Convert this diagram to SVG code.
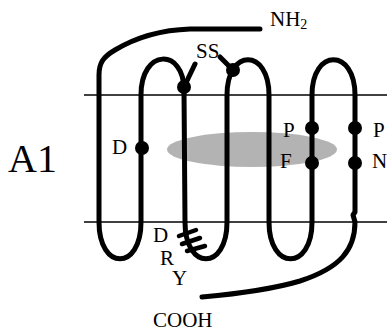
<svg xmlns="http://www.w3.org/2000/svg" width="387" height="333" viewBox="0 0 387 333">
<style>
text{font-family:'Liberation Serif','Times New Roman',Times,serif;font-size:21px;fill:#000}
.s{fill:none;stroke:#000;stroke-width:5;stroke-linecap:round;stroke-linejoin:round}
.m{stroke:#000;stroke-width:1.5}
.d{fill:#000}
</style>
<rect width="387" height="333" fill="#fff"/>
<g id="membrane">
<line class="m" x1="84" y1="95" x2="387" y2="95"/>
<line class="m" x1="84" y1="222" x2="387" y2="222"/>
</g>
<ellipse id="pocket" cx="252" cy="149.5" rx="85" ry="17.5" fill="#b3b3b3"/>
<g id="chain">
<path class="s" d="M260,29 L190,29 C160,30 135,38 115,50 C103,57 99,63 99,75 L99,222 C99,271 141,271 141,222 L141,95 C141,48 184,48 184,90 L185,222 C185,271 227,271 227,222 L227,95 C227,48 269,48 269,95 L269,222 C269,271 312,271 312,222 L312,95 C312,48 355,48 355,95 L355,212 L353,215 L355,222 C355,250 340,268 300,281 C270,290 235,294 202,297"/>
<line class="s" x1="184" y1="87" x2="195" y2="64"/>
<line class="s" x1="233" y1="70" x2="220" y2="57"/>
<path class="s" d="M179,236 L196,230 M182,244 L200,238 M187,251 L205,246" style="stroke-width:4.5"/>
</g>
<g id="residues">
<circle class="d" cx="184" cy="87" r="7"/>
<circle class="d" cx="233" cy="70" r="7"/>
<circle class="d" cx="142" cy="148" r="7"/>
<circle class="d" cx="312" cy="128" r="7"/>
<circle class="d" cx="312" cy="163" r="7"/>
<circle class="d" cx="355" cy="128" r="7"/>
<circle class="d" cx="355" cy="163" r="7"/>
</g>
<g id="labels" font-family="Liberation Serif, serif">
<text x="270" y="26">NH<tspan font-size="14" dy="3">2</tspan></text>
<text x="196" y="58">SS</text>
<text x="112" y="154">D</text>
<text x="283" y="137">P</text>
<text x="280" y="168">F</text>
<text x="373" y="137">P</text>
<text x="372" y="168">N</text>
<text x="153" y="242">D</text>
<text x="160" y="265">R</text>
<text x="172" y="285">Y</text>
<text x="153" y="327">COOH</text>
<text x="8" y="172" style="font-size:40px">A1</text>
</g>
</svg>
